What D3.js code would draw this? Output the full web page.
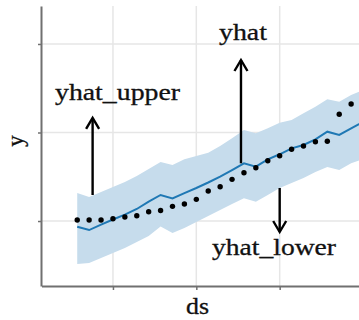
<!DOCTYPE html>
<html>
<head>
<meta charset="utf-8">
<script src="https://cdn.jsdelivr.net/npm/d3@7"></script>
<style>
  body { margin: 0; background: #fff; }
  svg { display: block; }
</style>
</head>
<body>
<div id="chart-area"></div>
<script>
// daily dates (ds)
const ds = ["2021-01-07","2021-01-08","2021-01-09","2021-01-10","2021-01-11","2021-01-12",
  "2021-01-13","2021-01-14","2021-01-15","2021-01-16","2021-01-17","2021-01-18","2021-01-19",
  "2021-01-20","2021-01-21","2021-01-22","2021-01-23","2021-01-24","2021-01-25","2021-01-26",
  "2021-01-27","2021-01-28","2021-01-29","2021-01-30","2021-01-31"];

// observed points
const y = [10.11, 10.11, 10.11, 10.26, 10.45, 10.60, 11.05, 11.19, 11.66, 11.92, 12.45, 13.39,
  13.88, 14.71, 15.46, 16.02, 16.81, 17.38, 18.10, 18.47, 18.96, 19.01, 22.06, 23.22];

// forecast and its interval
const yhat = [9.36, 8.98, 9.60, 10.17, 10.73, 11.36, 12.20, 12.94, 12.56, 13.16, 13.73, 14.35,
  15.01, 15.76, 16.52, 16.14, 16.97, 17.54, 18.21, 18.59, 19.23, 20.09, 19.72, 20.47, 21.19];
const yhatUpper = [13.16, 12.71, 13.28, 13.84, 14.41, 15.08, 15.88, 16.67, 16.33, 16.97, 17.34, 17.72,
  18.47, 19.34, 20.28, 19.91, 20.47, 21.11, 21.41, 22.17, 22.92, 23.75, 23.48, 24.24, 24.80];
const yhatLower = [5.14, 5.25, 5.82, 6.38, 6.95, 7.63, 8.31, 9.38, 8.64, 9.21, 9.89, 10.56,
  11.24, 11.92, 12.56, 12.18, 12.94, 13.73, 14.29, 14.86, 15.54, 16.10, 15.76, 16.52, 17.01];

// weekly x ticks, y ticks
const xTicks = ["2021-01-10", "2021-01-17", "2021-01-24"];
const yTicks = [10, 20, 30];

const W = 359, H = 320;
const margin = {top: 6, left: 41, bottom: 34};
const plotRight = 369;   // plot runs past the cropped edge

const parse = d3.timeParse("%Y-%m-%d");
const dates = ds.map(parse);

const svg = d3.select("#chart-area")
  .append("svg")
    .attr("width", W)
    .attr("height", H);

const x = d3.scaleTime()
  .domain([parse("2021-01-04"), d3.timeHour.offset(parse("2021-01-31"), 12)])
  .range([margin.left + 0.5, plotRight]);

const yScale = d3.scaleLinear()
  .domain([2.66, 34.29])
  .range([H - margin.bottom, margin.top]);

// grid
svg.append("g")
  .selectAll("line.vg")
  .data(xTicks.map(parse))
  .enter().append("line")
    .attr("x1", d => x(d)).attr("x2", d => x(d))
    .attr("y1", margin.top).attr("y2", H - margin.bottom)
    .attr("stroke", "#e6e6e6").attr("stroke-width", 1.5);

svg.append("g")
  .selectAll("line.hg")
  .data(yTicks)
  .enter().append("line")
    .attr("x1", margin.left).attr("x2", W)
    .attr("y1", d => yScale(d)).attr("y2", d => yScale(d))
    .attr("stroke", "#e6e6e6").attr("stroke-width", 1.5);

// uncertainty band
const band = d3.area()
  .x((d, i) => x(dates[i]))
  .y0((d, i) => yScale(yhatLower[i]))
  .y1((d, i) => yScale(yhatUpper[i]));

svg.append("path")
  .datum(yhat)
  .attr("d", band)
  .attr("fill", "#c6dcec");

// forecast line
const line = d3.line()
  .x((d, i) => x(dates[i]))
  .y(d => yScale(d));

svg.append("path")
  .datum(yhat)
  .attr("d", line)
  .attr("fill", "none")
  .attr("stroke", "#1f78b4")
  .attr("stroke-width", 2);

// observed dots
svg.selectAll("circle.obs")
  .data(y)
  .enter().append("circle")
    .attr("cx", (d, i) => x(dates[i]))
    .attr("cy", d => yScale(d))
    .attr("r", 2.7)
    .attr("fill", "#000");

// axes
const xAxis = svg.append("g")
  .attr("transform", `translate(0, ${H - margin.bottom})`)
  .call(d3.axisBottom(x).tickValues(xTicks.map(parse)).tickFormat("").tickSize(4).tickSizeOuter(0));

const yAxis = svg.append("g")
  .attr("transform", `translate(${margin.left}, 0)`)
  .call(d3.axisLeft(yScale).tickValues(yTicks).tickFormat("").tickSize(3).tickSizeOuter(0));

[xAxis, yAxis].forEach(g => {
  g.select(".domain").attr("stroke", "#707070").attr("stroke-width", 2);
  g.selectAll(".tick line").attr("stroke", "#707070").attr("stroke-width", 1.5);
});

// axis titles
svg.append("text")
  .attr("x", 197.5).attr("y", 314)
  .attr("text-anchor", "middle")
  .attr("font-family", "Liberation Serif")
  .attr("font-size", 23)
  .attr("fill", "#111").attr("stroke", "#111").attr("stroke-width", 0.3)
  .attr("textLength", 23).attr("lengthAdjust", "spacingAndGlyphs")
  .text("ds");

svg.append("text")
  .attr("transform", "translate(23, 141) rotate(-90)")
  .attr("text-anchor", "middle")
  .attr("font-family", "Liberation Serif")
  .attr("font-size", 23)
  .attr("fill", "#111").attr("stroke", "#111").attr("stroke-width", 0.3)
  .text("y");

// annotations
const hr = (s, h) => d3.timeHour.offset(parse(s), h);
const arrows = [
  {label: "yhat_upper", at: hr("2021-01-08", 7), from: 12.94, to: 21.64, tx: 55, ty: 100, len: 125},
  {label: "yhat", at: hr("2021-01-20", 18), from: 16.52, to: 28.19, tx: 219, ty: 40, len: 48},
  {label: "yhat_lower", at: hr("2021-01-24", 0), from: 13.73, to: 8.76, tx: 212, ty: 255, len: 124}
];

arrows.forEach(a => {
  const ax = x(a.at), y0 = yScale(a.from), y1 = yScale(a.to);
  const dir = y1 < y0 ? 1 : -1;
  svg.append("line")
    .attr("x1", ax).attr("x2", ax)
    .attr("y1", y0).attr("y2", y1)
    .attr("stroke", "#000").attr("stroke-width", 2.4);
  svg.append("path")
    .attr("d", `M${ax - 6.5},${y1 + dir * 11}L${ax},${y1}L${ax + 6.5},${y1 + dir * 11}`)
    .attr("fill", "none")
    .attr("stroke", "#000").attr("stroke-width", 2.4);
  svg.append("text")
    .attr("x", a.tx).attr("y", a.ty)
    .attr("font-family", "Liberation Serif")
    .attr("font-size", 23)
    .attr("textLength", a.len).attr("lengthAdjust", "spacingAndGlyphs")
    .attr("fill", "#111").attr("stroke", "#111").attr("stroke-width", 0.3)
    .text(a.label);
});
</script>
</body>
</html>
